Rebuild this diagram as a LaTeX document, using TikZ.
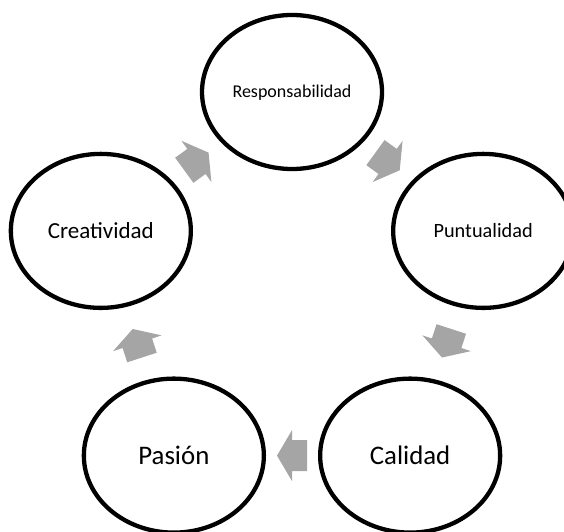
\documentclass[tikz,border=0pt]{standalone}
\usepackage{fontspec}
\setmainfont{Carlito}
\usetikzlibrary{shapes.geometric,calc}
\definecolor{arrowgray}{RGB}{165,165,165}
\begin{document}
\begin{tikzpicture}[x=1pt,y=1pt,
  bubble/.style={ellipse, draw=black, fill=white, line width=4.3pt,
    minimum width=180pt, minimum height=154pt, inner sep=0pt, text depth=0pt},
  % block arrow centred on the origin, pointing along +x
  blockarrow/.pic={
    \fill[arrowgray] (-15,15.5) -- (0,15.5) -- (0,25.5) -- (15,0)
      -- (0,-25.5) -- (0,-15.5) -- (-15,-15.5) -- cycle;
  }
]
\useasboundingbox (0,0) rectangle (564,531);
\clip (0,0) rectangle (564,531);

% the five values sit on a regular pentagon around the hub
\coordinate (hub) at (292,238);
\node[bubble, font=\fontsize{18}{20}\selectfont, text height=11.5pt]
  (resp) at ($(hub)+(90:201)$) {Responsabilidad};
\node[bubble, font=\fontsize{20.3}{22}\selectfont, text height=13pt]
  (punt) at ($(hub)+(18:201)$) {Puntualidad};
\node[bubble, font=\fontsize{26.8}{29}\selectfont, text height=17pt]
  (cal) at ($(hub)+(-54:201)$) {Calidad};
\node[bubble, font=\fontsize{26.8}{29}\selectfont, text height=17pt]
  (pas) at ($(hub)+(-126:201)$) {Pasión};
\node[bubble, font=\fontsize{23}{25}\selectfont, text height=14.7pt]
  (cre) at ($(hub)+(162:201)$) {Creatividad};

% clockwise cycle of block arrows between neighbours
\pic[rotate=-36]  at ($(resp)!0.5!(punt)$) {blockarrow};
\pic[rotate=-108] at ($(punt)!0.5!(cal)$)  {blockarrow};
\pic[rotate=180]  at ($(cal)!0.5!(pas)$)   {blockarrow};
\pic[rotate=108]  at ($(pas)!0.5!(cre)$)   {blockarrow};
\pic[rotate=36]   at ($(cre)!0.5!(resp)$)  {blockarrow};
\end{tikzpicture}
\end{document}
